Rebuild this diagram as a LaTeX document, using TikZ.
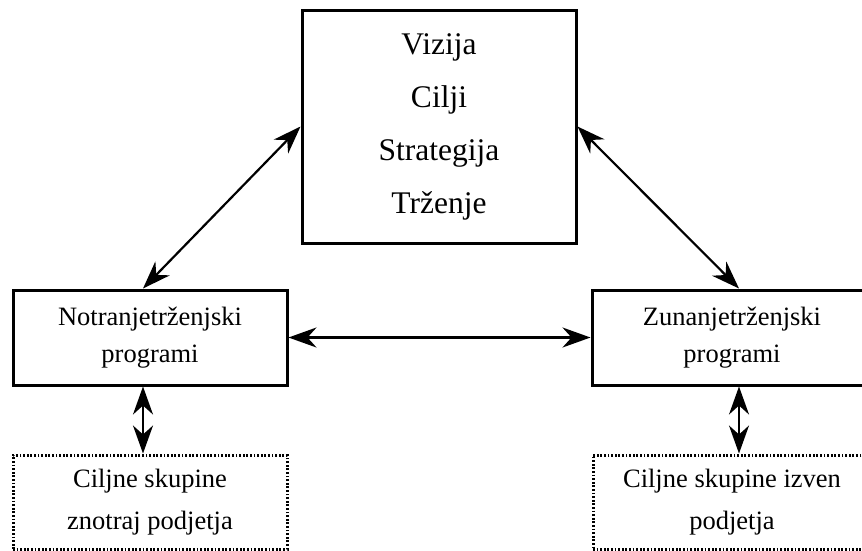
\documentclass[tikz,border=0pt]{standalone}
\usepackage{fontspec}
\setmainfont{Liberation Serif}
\usetikzlibrary{arrows.meta,positioning}
\tikzset{
block/.style = {draw, line width=3pt, fill=white, rectangle, inner sep=0pt, align=center, minimum height=95pt, minimum width=274pt, font=\fontsize{26.5}{37}\selectfont},
bigblock/.style = {block, minimum height=233pt, font=\fontsize{31.5}{53}\selectfont},
group/.style = {block, line width=3pt, dash pattern=on 1.8pt off 1.8pt, font=\fontsize{26.5}{42}\selectfont},
tmp/.style  = {coordinate},
link/.style = {<->, line width=2.2pt}
}
\begin{document}
\begin{tikzpicture}[auto, >={Stealth[length=28pt,width=20pt,inset=9pt]}]
  \useasboundingbox (0pt,0pt) rectangle (862pt,-550pt);
  \node [block] at (150pt,-337.5pt)                             (notranji)   {Notranjetrženjski\\programi};
  \node [block, right of=notranji, node distance=582pt, minimum width=280pt] (zunanji) {Zunanjetrženjski\\programi};
  \node [tmp, right of=notranji, node distance=289pt]           (tmp1)       {};
  \node [bigblock, above of=tmp1, node distance=211pt]          (vizija)     {Vizija\\Cilji\\Strategija\\Trženje};
  \node [group, below of=notranji, node distance=164.5pt, minimum height=94pt] (skupinein)  {Ciljne skupine\\znotraj podjetja};
  \node [group, below of=zunanji, node distance=164.5pt, minimum height=94pt, minimum width=278pt] (skupineout) {Ciljne skupine izven\\podjetja};

  \draw [link] (vizija.west) -- ([xshift=-7pt]notranji.north);
  \draw [link] (vizija.east) -- ([xshift=7pt]zunanji.north);
  \draw [link] (notranji.east) -- (zunanji.west);
  \draw [link] ([xshift=-7pt]notranji.south) -- ([xshift=-7pt]skupinein.north);
  \draw [link] ([xshift=7pt]zunanji.south) -- ([xshift=7pt]skupineout.north);
\end{tikzpicture}
\end{document}
